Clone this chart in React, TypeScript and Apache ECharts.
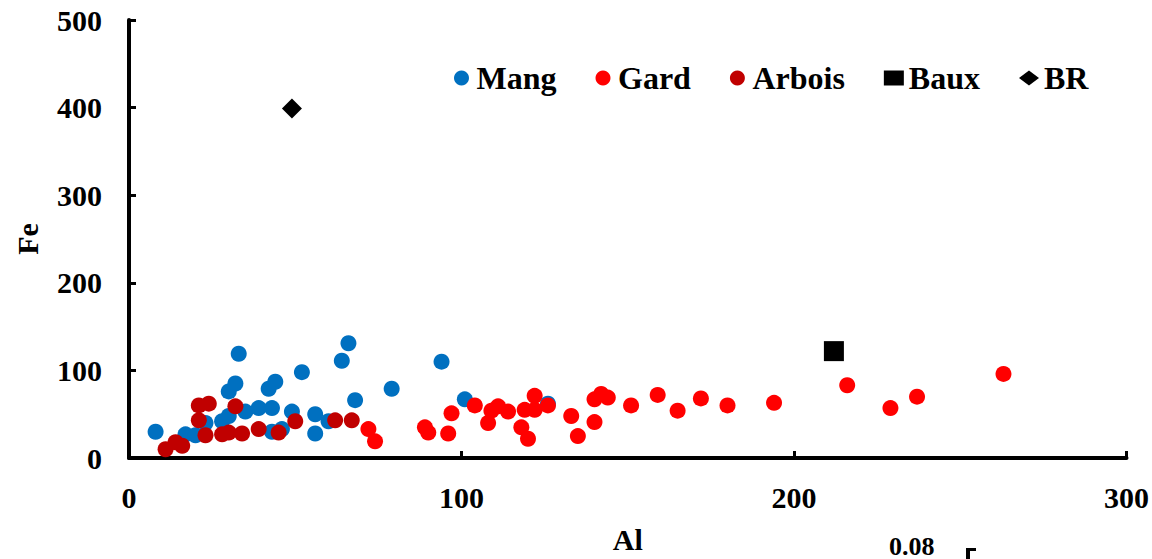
import React, { useEffect, useRef } from "react";
import * as echarts from "echarts";

// Al (x) vs Fe (y)
const mang: [number, number][] = [
  [8, 30], [17, 27], [20, 26], [23, 40], [28, 42], [30, 48], [35, 53], [39, 57],
  [43, 57], [49, 53], [56, 50], [56, 28], [43, 30], [46, 33], [30, 76], [32, 85],
  [33, 119], [42, 79], [44, 87], [52, 98], [64, 111], [66, 131], [68, 66], [60, 42],
  [79, 79], [94, 110], [101, 67], [126, 62],
];
const gard: [number, number][] = [
  [72, 33], [74, 19], [89, 35], [90, 29], [96, 28], [97, 51], [104, 60], [108, 40],
  [109, 54], [111, 59], [114, 53], [118, 35], [120, 22], [119, 55], [122, 71], [122, 55],
  [126, 60], [133, 48], [135, 25], [140, 41], [140, 67], [142, 73], [144, 69], [151, 60],
  [159, 72], [165, 54], [172, 68], [180, 60], [194, 63], [216, 83], [229, 57], [237, 70],
  [263, 96],
];
const arbois: [number, number][] = [
  [11, 10], [14, 18], [16, 14], [21, 60], [24, 62], [21, 43], [23, 26], [28, 27],
  [30, 29], [32, 59], [34, 28], [39, 33], [45, 29], [50, 42], [62, 43], [67, 43],
];
const baux: [number, number][] = [[212, 122]];
const br: [number, number][] = [[49, 399]];

const seriesNames = ["Mang", "Gard", "Arbois", "Baux", "BR"];
const seriesColors = ["#0070C0", "#FF0000", "#C00000", "#000000", "#000000"];
const seriesSymbols = ["circle", "circle", "circle", "rect", "diamond"];
const seriesSizes = [16, 16, 16, 20, 20];
const seriesData = [mang, gard, arbois, baux, br];

const xMin = 0, xMax = 300, xStep = 100;
const yMin = 0, yMax = 500, yStep = 100;
const xTitle = "Al";
const yTitle = "Fe";
const strayLabel = "0.08";

const FONT = "'Liberation Serif', 'Times New Roman', serif";

export default function App() {
  const ref = useRef<HTMLDivElement>(null);
  useEffect(() => {
    if (!ref.current) return;
    const chart = echarts.init(ref.current, undefined, { renderer: "svg" });
    const axisCommon = {
      type: "value" as const,
      axisLine: { show: true, lineStyle: { color: "#000", width: 4 } },
      axisTick: { show: true, inside: true, length: 7, lineStyle: { color: "#000", width: 3 } },
      splitLine: { show: false },
      axisLabel: { color: "#000", fontFamily: FONT, fontWeight: "bold" as const, fontSize: 30 },
      nameTextStyle: { color: "#000", fontFamily: FONT, fontWeight: "bold" as const, fontSize: 30 },
      nameLocation: "middle" as const,
    };
    chart.setOption({
      animation: false,
      backgroundColor: "#fff",
      grid: { left: 129, right: 25, top: 20, bottom: 97, containLabel: false },
      legend: {
        left: 449,
        top: 57,
        itemWidth: 20,
        itemHeight: 15,
        itemGap: 39,
        textStyle: { color: "#000", fontFamily: FONT, fontWeight: "bold", fontSize: 32 },
        data: seriesNames.map((n, i) => ({ name: n, icon: seriesSymbols[i] })),
      },
      xAxis: {
        ...axisCommon,
        min: xMin, max: xMax, interval: xStep,
        name: xTitle, nameGap: 66,
        axisLabel: { ...axisCommon.axisLabel, margin: 24 },
      },
      yAxis: {
        ...axisCommon,
        min: yMin, max: yMax, interval: yStep,
        name: yTitle, nameGap: 87,
        axisLabel: { ...axisCommon.axisLabel, margin: 27 },
      },
      series: seriesNames.map((n, i) => ({
        name: n,
        type: "scatter",
        data: seriesData[i],
        symbol: seriesSymbols[i],
        symbolSize: seriesSizes[i],
        itemStyle: { color: seriesColors[i], opacity: 1 },
        emphasis: { disabled: true },
      })),
      graphic: [
        {
          type: "text",
          left: 889,
          top: 533,
          style: { text: strayLabel, fill: "#000", font: `bold 26px ${FONT}` },
        },
        {
          type: "line",
          shape: { x1: 968, y1: 548, x2: 968, y2: 560 },
          style: { stroke: "#000", lineWidth: 4 },
        },
        {
          type: "line",
          shape: { x1: 966, y1: 549.5, x2: 976, y2: 549.5 },
          style: { stroke: "#000", lineWidth: 3 },
        },
      ],
    });
    return () => chart.dispose();
  }, []);
  return (
    <div
      ref={ref}
      style={{ position: "fixed", left: 0, top: 0, width: 1152, height: 559, background: "#fff" }}
    />
  );
}
